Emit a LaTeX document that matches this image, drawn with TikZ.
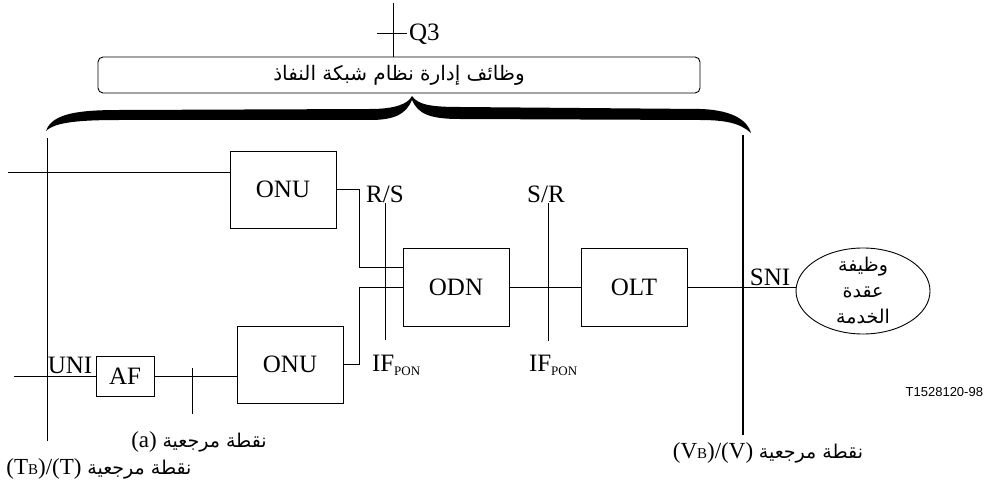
\documentclass[tikz,border=0pt]{standalone}
\usepackage{fontspec}
\setmainfont{Liberation Serif}
\newfontfamily\arabicfont[Script=Arabic]{DejaVu Sans}
\newfontfamily\sansfont{Liberation Sans}
\TeXXeTstate=1
\usetikzlibrary{shapes.geometric}
\begin{document}
\begin{tikzpicture}[x=1pt,y=-1pt,
  line width=0.9pt,
  every node/.style={inner sep=0pt,outer sep=0pt},
  lbl/.style={font=\fontsize{25}{28}\selectfont},
  ar/.style={font=\arabicfont\fontsize{19}{26}\selectfont},
  unit/.style={draw,rectangle,minimum width=106pt,minimum height=77pt,font=\fontsize{25}{28}\selectfont},
  reflbl/.style={font=\fontsize{23}{26}\selectfont},
  thickline/.style={line width=2.2pt}]
\useasboundingbox (0,0) rectangle (984,486);

% management box
\node[draw,rounded corners=5pt,minimum width=602pt,minimum height=36pt,font=\arabicfont\fontsize{20}{24}\selectfont] (mgmt) at (399,75) {\beginR وظائف إدارة نظام شبكة النفاذ\endR};
\coordinate (q3top) at (393,3);
\coordinate (q3l) at (377,33);
\coordinate (q3r) at (407,33);
\draw (q3top) -- (q3top |- mgmt.north);
\draw (q3l) -- (q3r);
\node[lbl,anchor=west] (q3) at (409,34) {Q3};

% brace
\fill (46,131) .. controls (52,113) and (80,110) .. (120,110) -- (370,109)
  .. controls (395,109) and (408,104) .. (412,96)
  .. controls (418,105) and (432,107) .. (460,107) -- (700,109)
  .. controls (735,110) and (748,122) .. (751,133)
  .. controls (740,123) and (725,120) .. (700,120) -- (460,119)
  .. controls (430,119) and (418,114) .. (412,100)
  .. controls (406,114) and (395,120) .. (370,120) -- (120,120)
  .. controls (80,120) and (55,122) .. (46,131) -- cycle;

% units
\node[unit] (onu1) at (283,189.5) {ONU};
\node[unit] (onu2) at (290,364.5) {ONU};
\node[unit,minimum height=78pt] (odn) at (456,287) {ODN};
\node[unit,minimum height=78pt] (olt) at (634,287) {OLT};
\node[draw,rectangle,minimum width=58pt,minimum height=40pt,lbl] (af) at (125,376) {AF};
\node[draw,ellipse,minimum width=134pt,minimum height=86pt] (sn) at (863,291) {};
\node[ar,align=center] (sntext) at (863,291) {\beginR وظيفة\endR\\\beginR عقدة\endR\\\beginR الخدمة\endR};

% reference lines
\coordinate (tT) at (47,138);
\coordinate (tB) at (47,441);
\draw (tT) -- (tB);
\coordinate (vT) at (743,135);
\coordinate (vM) at (743,377);
\coordinate (vB) at (743,435);
\draw[thickline] (vT) -- (vM);
\draw[line width=1.5pt] (vM) -- (vB);

% connections
\coordinate (in1) at (8,172);
\draw (in1) -- (in1 -| onu1.west);
\draw (onu1.east) -- ++(23,0) |- ([yshift=20pt]odn.west);
\draw (onu2.east) -- ++(16,0) |- (odn.west);
\draw (odn.east) -- (olt.west);
\draw (olt.east) -- (olt.east -| sn.west);
\coordinate (in2) at (14,376);
\draw (in2) -- (af.west);
\draw (af.east) -- (af.east -| onu2.west);

% reference points
\coordinate (aT) at (192,368);
\coordinate (aB) at (192,414);
\draw (aT) -- (aB);
\coordinate (rsT) at (385,203);
\coordinate (rsB) at (385,340);
\draw (rsT) -- (rsB);
\coordinate (srT) at (548,203);
\coordinate (srB) at (548,341);
\draw (srT) -- (srB);

% labels
\node[lbl] (rs) at (385,194) {R/S};
\node[lbl] (sr) at (546,194) {S/R};
\node[lbl,anchor=base west] (if1) at (372,371) {IF\raisebox{-4pt}{\fontsize{13}{14}\selectfont PON}};
\node[lbl,anchor=base west] (if2) at (529,371) {IF\raisebox{-4pt}{\fontsize{13}{14}\selectfont PON}};
\node[lbl] (sni) at (770,277) {SNI};
\node[lbl] (uni) at (70,365) {UNI};
\node[font=\sansfont\fontsize{13}{15}\selectfont,anchor=east] (fig) at (983,392) {T1528120-98};

\node[reflbl] (refa) at (199,442) {(a) {\arabicfont\fontsize{19}{22}\selectfont\beginR نقطة مرجعية\endR}};
\node[reflbl] (refT) at (99,469) {(T{\fontsize{15}{16}\selectfont B})/(T) {\arabicfont\fontsize{19}{22}\selectfont\beginR نقطة مرجعية\endR}};
\node[reflbl] (refV) at (768,453) {(V{\fontsize{15}{16}\selectfont B})/(V) {\arabicfont\fontsize{19}{22}\selectfont\beginR نقطة مرجعية\endR}};
\end{tikzpicture}
\end{document}
